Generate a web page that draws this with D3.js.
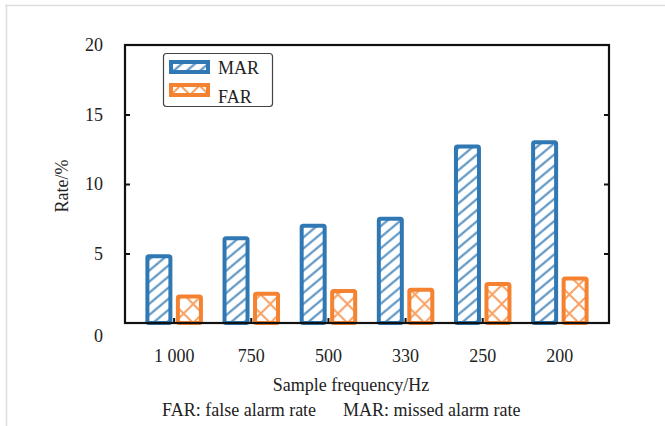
<!DOCTYPE html>
<html>
<head>
<meta charset="utf-8">
<script src="https://cdn.jsdelivr.net/npm/d3@7"></script>
<style>
  body { margin: 0; background: #fff; }
</style>
</head>
<body>
<div id="chart"></div>
<script>
// data
const frequencies = ["1 000", "750", "500", "330", "250", "200"];
const series = ["MAR", "FAR"];
const marValues = [4.8, 6.1, 7.0, 7.5, 12.7, 13.0];
const farValues = [1.9, 2.1, 2.3, 2.4, 2.8, 3.2];
const yTicks = [0, 5, 10, 15, 20];

const width = 665, height = 426;
const plotL = 125, plotR = 609, plotT = 45, plotB = 323;
const blue = "#2f78b3", orange = "#f58230";
const serif = '"Liberation Serif", "Times New Roman", serif';

const svg = d3.select("#chart").append("svg")
    .attr("width", width)
    .attr("height", height);

// light frame of the figure (top and left only)
svg.append("line").attr("x1", 5).attr("x2", width).attr("y1", 5.5).attr("y2", 5.5)
    .attr("stroke", "#ddd").attr("stroke-width", 1.5);
svg.append("line").attr("x1", 6.5).attr("x2", 6.5).attr("y1", 5).attr("y2", height)
    .attr("stroke", "#ddd").attr("stroke-width", 1.5);

// hatch patterns
const defs = svg.append("defs");
const pMar = defs.append("pattern").attr("id", "hatchMar")
    .attr("patternUnits", "userSpaceOnUse").attr("width", 8.5).attr("height", 8.5)
    .attr("patternTransform", "rotate(-40)");
pMar.append("rect").attr("width", 8.5).attr("height", 8.5).attr("fill", "#fff");
pMar.append("line").attr("x1", 0).attr("x2", 8.5).attr("y1", 4.25).attr("y2", 4.25)
    .attr("stroke", blue).attr("stroke-width", 2).attr("opacity", 0.85);

const pFar = defs.append("pattern").attr("id", "hatchFar")
    .attr("patternUnits", "userSpaceOnUse").attr("width", 19).attr("height", 19);
pFar.append("rect").attr("width", 19).attr("height", 19).attr("fill", "#fff");
pFar.append("path").attr("d", "M0,0L19,19M19,0L0,19")
    .attr("stroke", orange).attr("stroke-width", 2).attr("fill", "none").attr("opacity", 0.75);

// scales
const x0 = d3.scaleBand()
    .domain(frequencies)
    .range([plotL, plotR])
    .paddingInner(0)
    .paddingOuter(0.137);

const x1 = d3.scaleBand()
    .domain(series)
    .range([-30.5, 30.5])
    .padding(0);

const y = d3.scaleLinear()
    .domain([0, 20])
    .range([plotB, plotT]);

const data = frequencies.map((f, i) => ({ f, MAR: marValues[i], FAR: farValues[i] }));

// bars
const groups = svg.selectAll(".grp")
    .data(data)
    .enter()
    .append("g")
    .attr("class", "grp")
    .attr("transform", d => `translate(${x0(d.f) + x0.bandwidth() / 2},0)`);

const barW = x1.bandwidth() - 7.5;
groups.selectAll("rect")
    .data(d => series.map(s => ({ s, v: d[s] })))
    .enter()
    .append("rect")
    .attr("x", d => x1(d.s) + (x1.bandwidth() - barW) / 2)
    .attr("y", d => y(d.v))
    .attr("width", barW)
    .attr("height", d => plotB - y(d.v))
    .attr("rx", 1.5)
    .attr("fill", d => d.s === "MAR" ? "url(#hatchMar)" : "url(#hatchFar)")
    .attr("stroke", d => d.s === "MAR" ? blue : orange)
    .attr("stroke-width", 4);

// frame
svg.append("rect")
    .attr("x", plotL).attr("y", plotT)
    .attr("width", plotR - plotL).attr("height", plotB - plotT)
    .attr("fill", "none").attr("stroke", "#111").attr("stroke-width", 2.2);

// y axis (inner ticks on both sides)
const yAxis = svg.append("g")
    .attr("transform", `translate(${plotL},0)`)
    .call(d3.axisLeft(y).tickValues(yTicks).tickSize(-5).tickPadding(22));
yAxis.select(".domain").remove();
yAxis.selectAll("line").attr("stroke", "#111").attr("stroke-width", 2);
yAxis.selectAll("text")
    .style("font-family", serif)
    .style("font-size", "18px")
    .attr("dy", d => d === 0 ? "1.0em" : "0.32em")
    .attr("fill", "#222");
yAxis.selectAll(".tick").filter(d => d === 0 || d === 20).select("line").remove();

const yRight = svg.append("g")
    .attr("transform", `translate(${plotR},0)`)
    .call(d3.axisRight(y).tickValues(yTicks.filter(t => t > 0 && t < 20)).tickSize(-5).tickFormat(""));
yRight.select(".domain").remove();
yRight.selectAll("line").attr("stroke", "#111").attr("stroke-width", 2);

// x axis: small ticks at group centres, labels below
const xAxis = svg.append("g")
    .attr("transform", `translate(0,${plotB})`)
    .call(d3.axisBottom(x0).tickSize(-5).tickPadding(26));
xAxis.select(".domain").remove();
xAxis.selectAll("line").attr("stroke", "#111").attr("stroke-width", 2);
xAxis.selectAll(".tick").filter((d, i) => i === frequencies.length - 1).select("line").remove();
xAxis.selectAll("text")
    .style("font-family", serif)
    .style("font-size", "18px")
    .attr("fill", "#222");

// axis titles
svg.append("text")
    .attr("transform", "translate(68,186) rotate(-90)")
    .attr("text-anchor", "middle")
    .style("font-family", serif)
    .style("font-size", "18px")
    .attr("fill", "#222")
    .text("Rate/%");

svg.append("text")
    .attr("x", 351).attr("y", 391)
    .attr("text-anchor", "middle")
    .style("font-family", serif)
    .style("font-size", "18px")
    .attr("fill", "#222")
    .text("Sample frequency/Hz");

svg.append("text")
    .attr("x", 162).attr("y", 416)
    .style("font-family", serif)
    .style("font-size", "18px")
    .attr("fill", "#222")
    .text("FAR: false alarm rate");
svg.append("text")
    .attr("x", 343).attr("y", 416)
    .style("font-family", serif)
    .style("font-size", "18px")
    .attr("fill", "#222")
    .text("MAR: missed alarm rate");

// legend
const legend = svg.append("g");
legend.append("rect")
    .attr("x", 163.5).attr("y", 53.5).attr("width", 109).attr("height", 53)
    .attr("rx", 3).attr("fill", "#fff").attr("stroke", "#444").attr("stroke-width", 1.2);
series.forEach((s, i) => {
    legend.append("rect")
        .attr("x", 171).attr("y", 62 + i * 23).attr("width", 37).attr("height", 10)
        .attr("fill", s === "MAR" ? "url(#hatchMar)" : "url(#hatchFar)")
        .attr("stroke", s === "MAR" ? blue : orange)
        .attr("stroke-width", 4);
    legend.append("text")
        .attr("x", 218).attr("y", 74 + i * 29)
        .style("font-family", serif)
        .style("font-size", "18px")
        .attr("fill", "#222")
        .text(s);
});
</script>
</body>
</html>
